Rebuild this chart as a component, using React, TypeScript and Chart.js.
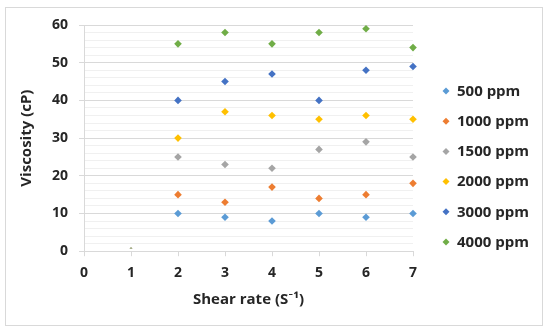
import React, { useEffect, useRef } from "react";
import { Chart, registerables } from "chart.js";

Chart.register(...registerables);

const shearRates = [1, 2, 3, 4, 5, 6, 7];
const ppm500 = [0, 10, 9, 8, 10, 9, 10];
const ppm1000 = [0, 15, 13, 17, 14, 15, 18];
const ppm1500 = [0, 25, 23, 22, 27, 29, 25];
const ppm2000 = [0, 30, 37, 36, 35, 36, 35];
const ppm3000 = [0, 40, 45, 47, 40, 48, 49];
const ppm4000 = [0, 55, 58, 55, 58, 59, 54];

const seriesNames = ["500 ppm", "1000 ppm", "1500 ppm", "2000 ppm", "3000 ppm", "4000 ppm"];
const seriesValues = [ppm500, ppm1000, ppm1500, ppm2000, ppm3000, ppm4000];
const seriesColors = ["#5B9BD5", "#ED7D31", "#A5A5A5", "#FFC000", "#4472C4", "#70AD47"];

const FONT = "'Open Sans', Lato, sans-serif";
const TEXT = "#262626";

const frame = {
  id: "frame",
  beforeDraw(chart: any) {
    const ctx = chart.ctx;
    ctx.save();
    ctx.fillStyle = "#ffffff";
    ctx.fillRect(0, 0, chart.width, chart.height);
    ctx.strokeStyle = "#d9d9d9";
    ctx.lineWidth = 1;
    ctx.strokeRect(5.5, 7.5, 537, 318);
    ctx.restore();
  },
};

// Legend drawn to the right of the plot area, items taken from the datasets
const sideLegend = {
  id: "sideLegend",
  afterDraw(chart: any) {
    const ctx = chart.ctx;
    const area = chart.chartArea;
    const markerX = area.right + 33;
    const textX = markerX + 11;
    const firstY = 91;
    const step = 30.2;
    ctx.save();
    ctx.font = `bold 15px ${FONT}`;
    ctx.textBaseline = "middle";
    ctx.textAlign = "left";
    chart.data.datasets.forEach((ds: any, i: number) => {
      const y = firstY + i * step;
      const r = 3.5;
      ctx.fillStyle = ds.backgroundColor;
      ctx.beginPath();
      ctx.moveTo(markerX, y - r);
      ctx.lineTo(markerX + r, y);
      ctx.lineTo(markerX, y + r);
      ctx.lineTo(markerX - r, y);
      ctx.closePath();
      ctx.fill();
      ctx.fillStyle = TEXT;
      ctx.fillText(ds.label, textX, y + 0.5);
    });
    ctx.restore();
  },
};

function buildChart(canvas: HTMLCanvasElement) {
  return new Chart(canvas, {
    type: "scatter",
    data: {
      datasets: seriesNames.map((name, i) => ({
        label: name,
        data: shearRates.map((x, j) => ({ x, y: seriesValues[i][j] })),
        backgroundColor: seriesColors[i],
        borderColor: seriesColors[i],
        pointStyle: "rectRot",
        pointRadius: 3.8,
        pointHoverRadius: 3.8,
        borderWidth: 0,
        order: seriesNames.length - i,
        clip: { left: 10, top: 10, right: 10, bottom: -3 },
      })),
    },
    plugins: [frame, sideLegend],
    options: {
      animation: false,
      responsive: false,
      events: [],
      layout: { padding: { top: 25, left: 18, right: 147, bottom: 26 } },
      plugins: {
        tooltip: { enabled: false },
        legend: { display: false },
      },
      scales: {
        x: {
          type: "linear",
          min: 0,
          max: 7,
          ticks: {
            stepSize: 1,
            color: TEXT,
            padding: 8,
            font: { family: FONT, size: 14, weight: "bold" },
          },
          grid: {
            drawOnChartArea: false,
            drawTicks: true,
            tickLength: 5,
            color: "#d9d9d9",
          },
          border: { color: "#d9d9d9" },
          title: {
            display: true,
            text: "Shear rate (S\u207B\u00B9)",
            color: TEXT,
            padding: { top: 2, bottom: 0 },
            font: { family: FONT, size: 15, weight: "bold" },
          },
        },
        y: {
          type: "linear",
          min: 0,
          max: 60,
          ticks: {
            stepSize: 2,
            autoSkip: false,
            color: TEXT,
            padding: 11,
            font: { family: FONT, size: 14, weight: "bold" },
            callback: (v: any) => (Number(v) % 10 === 0 ? String(v) : ""),
          },
          grid: {
            tickLength: 5,
            color: (c: any) => (c.tick && c.tick.value % 10 === 0 ? "#d9d9d9" : "#f0f0f0"),
            tickColor: (c: any) => (c.tick && c.tick.value % 10 === 0 ? "#d9d9d9" : "rgba(0,0,0,0)"),
          },
          border: { color: "#d9d9d9" },
          title: {
            display: true,
            text: "Viscosity (cP)",
            color: TEXT,
            padding: { top: 0, bottom: 5 },
            font: { family: FONT, size: 15, weight: "bold" },
          },
        },
      },
    },
  } as any);
}

export default function App() {
  const ref = useRef<HTMLCanvasElement | null>(null);
  useEffect(() => {
    let chart: any = null;
    let cancelled = false;
    const make = () => {
      if (cancelled || !ref.current) return;
      chart = buildChart(ref.current);
    };
    const fonts: any = (document as any).fonts;
    if (fonts && fonts.load) {
      Promise.all([
        fonts.load("bold 14px 'Open Sans'"),
        fonts.load("bold 15px 'Open Sans'"),
      ])
        .catch(() => null)
        .then(() => make());
    } else {
      make();
    }
    return () => {
      cancelled = true;
      if (chart) chart.destroy();
    };
  }, []);
  return (
    <div style={{ position: "fixed", left: 0, top: 0, width: 560, height: 335 }}>
      <canvas ref={ref} width={560} height={335} style={{ width: 560, height: 335 }} />
    </div>
  );
}
